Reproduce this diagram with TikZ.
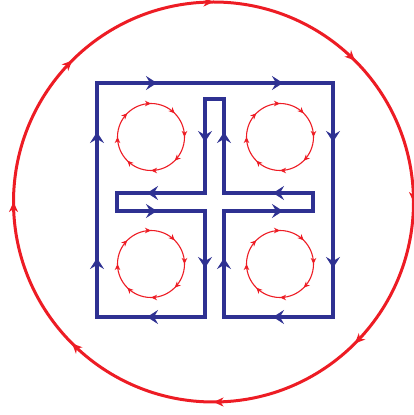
\documentclass[tikz,border=0pt]{standalone}
\usepackage{tikz}
\usetikzlibrary{arrows.meta,decorations.markings}
\definecolor{loopblue}{RGB}{46,49,146}
\definecolor{fieldred}{RGB}{237,28,36}

\begin{document}
\begin{tikzpicture}[x=1pt,y=1pt,
  bigloop/.style={fieldred, line width=3pt, postaction={decorate},
    decoration={markings, mark=between positions 0 and 0.9 step 0.125
      with {\arrow{Stealth[length=10pt,width=9pt,inset=3pt]}}}},
  smallloop/.style={fieldred, line width=1.1pt, postaction={decorate},
    decoration={markings, mark=between positions 0 and 0.9 step 0.125
      with {\arrow{Stealth[length=6pt,width=5.5pt,inset=1.8pt]}}}},
  wire/.style={loopblue, line width=3.6pt, line join=miter},
  flow/.style={loopblue, line width=3.6pt, -{Stealth[length=11pt,width=14pt,inset=4pt]}}]
\useasboundingbox (0,0) rectangle (414,415);

% outer field line, clockwise
\draw[bigloop] (213.5,413) arc[start angle=90, end angle=-270, radius=200];

% small field loops round the four holes
\foreach \cx/\cy in {151/278, 280/278, 151/151, 280/151} {
  \draw[smallloop] (\cx,\cy) ++(0,33.5) arc[start angle=90, end angle=-270, radius=33.5];
}

% current path: square with a cross cut into it
\draw[wire] (97,332) -- (333,332) -- (333,98) -- (224,98) -- (224,204)
  -- (313,204) -- (313,222) -- (224,222) -- (224,316) -- (205,316)
  -- (205,222) -- (117,222) -- (117,204) -- (205,204) -- (205,98)
  -- (97,98) -- cycle;

% arrows on the path (x, y, direction)
\foreach \x/\y/\a in {152/332/0, 278/332/0, 152/98/180, 278/98/180,
    97/278/90, 97/152/90, 333/278/-90, 333/152/-90,
    205/278/-90, 205/152/-90, 224/278/90, 224/152/90,
    152/222/180, 278/222/180, 152/204/0, 278/204/0} {
  \draw[flow] (\x,\y) ++(\a+180:6) -- ++(\a:11);
}
\end{tikzpicture}
\end{document}
